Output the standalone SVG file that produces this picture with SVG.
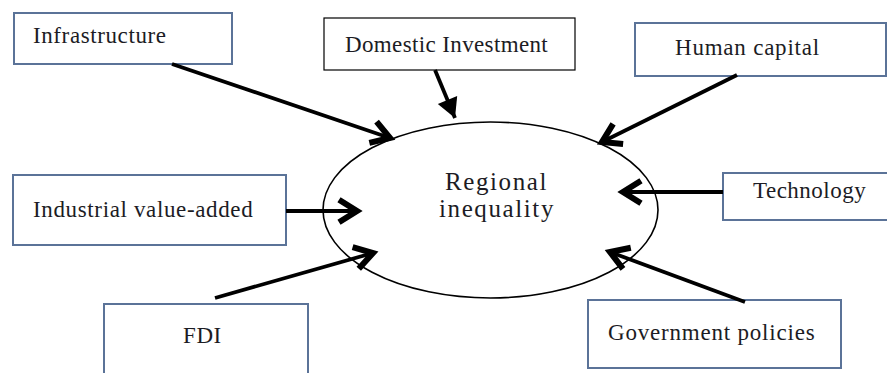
<svg xmlns="http://www.w3.org/2000/svg" width="887" height="373" viewBox="0 0 887 373">
  <defs>
    <marker id="chev" markerUnits="userSpaceOnUse" markerWidth="30" markerHeight="30" viewBox="-16 -10 20 20" refX="0" refY="0" orient="auto">
      <path d="M -12 -7.5 L 0 0 L -12 7.5" fill="none" stroke="#000" stroke-width="4" stroke-linejoin="miter"/>
    </marker>
    <marker id="tri" markerUnits="userSpaceOnUse" markerWidth="30" markerHeight="30" viewBox="-16 -10 20 20" refX="0" refY="0" orient="auto">
      <path d="M -13 -7 L 0 0 L -13 7 Z" fill="#000"/>
    </marker>
  </defs>
  <style>
    .box { fill: #fff; stroke: #5b7398; stroke-width: 2; }
    .box2 { fill: #fff; stroke: #000; stroke-width: 1.2; }
    .t { font-family: "Liberation Serif", "Times New Roman", Times, serif; font-size: 23px; fill: #1c1c24; }
    .big { font-size: 25px; letter-spacing: 1.6px; }
    .conn { stroke: #000; stroke-width: 3.8; fill: none; }
  </style>
  <rect width="887" height="373" fill="#fff"/>

  <g id="regional-inequality">
    <ellipse cx="490.5" cy="210" rx="167.5" ry="88" fill="none" stroke="#000" stroke-width="1.6"/>
    <text class="t big" x="445" y="190">Regional</text>
    <text class="t big" x="439" y="217">inequality</text>
  </g>

  <g id="infrastructure">
    <rect class="box" x="14" y="13" width="218" height="51"/>
    <text class="t" x="33" y="43" letter-spacing="0.6">Infrastructure</text>
  </g>

  <g id="domestic-investment">
    <rect class="box2" x="324" y="18" width="251" height="52"/>
    <text class="t" x="345" y="52" letter-spacing="0.37">Domestic Investment</text>
  </g>

  <g id="human-capital">
    <rect class="box" x="635" y="23" width="251" height="53"/>
    <text class="t" x="675" y="55" letter-spacing="0.78">Human capital</text>
  </g>

  <g id="industrial-value-added">
    <rect class="box" x="13" y="175" width="273" height="70"/>
    <text class="t" x="33" y="217" letter-spacing="0.64">Industrial value-added</text>
  </g>

  <g id="technology">
    <rect class="box" x="723" y="173" width="165" height="47"/>
    <text class="t" x="753" y="198" letter-spacing="0.5">Technology</text>
  </g>

  <g id="fdi">
    <rect class="box" x="104" y="304" width="204" height="75"/>
    <text class="t" x="183" y="343" letter-spacing="0.6">FDI</text>
  </g>

  <g id="government-policies">
    <rect class="box" x="588" y="300" width="253" height="68"/>
    <text class="t" x="608" y="340" letter-spacing="0.8">Government policies</text>
  </g>

  <g id="connectors">
    <line class="conn" x1="172" y1="64" x2="390" y2="138" marker-end="url(#chev)"/>
    <line class="conn" x1="435" y1="70" x2="455" y2="118" marker-end="url(#tri)"/>
    <line class="conn" x1="737" y1="75" x2="602" y2="142" marker-end="url(#chev)"/>
    <line class="conn" x1="286" y1="211" x2="357" y2="211" marker-end="url(#chev)"/>
    <line class="conn" x1="723" y1="192" x2="623" y2="192" marker-end="url(#chev)"/>
    <line class="conn" x1="215" y1="298" x2="373" y2="253" marker-end="url(#chev)"/>
    <line class="conn" x1="745" y1="302" x2="610" y2="252" marker-end="url(#chev)"/>
  </g>
</svg>
